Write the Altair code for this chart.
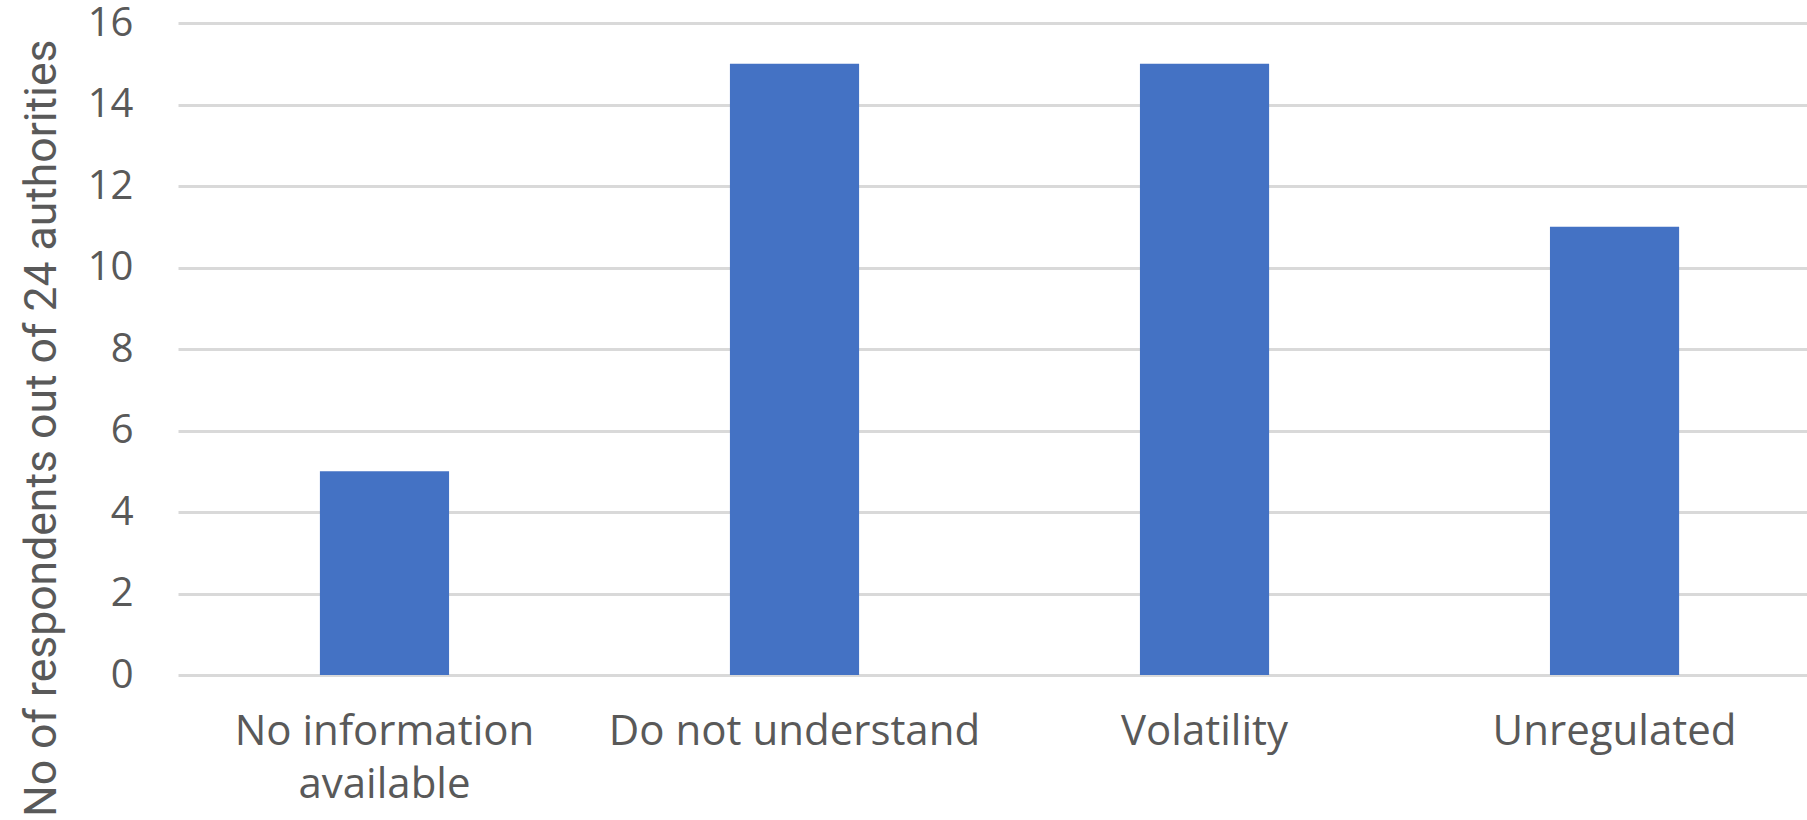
import altair as alt
import pandas as pd

# Survey responses: reasons authorities gave, counted out of 24 respondents
reasons = ["No information available", "Do not understand", "Volatility", "Unregulated"]
respondents = [5, 15, 15, 11]
y_ticks = [0, 2, 4, 6, 8, 10, 12, 14, 16]

df = pd.DataFrame({"reason": reasons, "count": respondents})

text_grey = "#595959"
label_font = "Open Sans"

bars = alt.Chart(df).mark_bar(color="#4472C4").encode(
    x=alt.X(
        "reason:N",
        sort=reasons,
        title=None,
        scale=alt.Scale(paddingInner=0.685, paddingOuter=0.329, align=0.526),
        axis=alt.Axis(
            domain=False,
            ticks=False,
            tickSize=0,
            labelAngle=0,
            labelFont=label_font,
            labelFontSize=42,
            labelColor=text_grey,
            labelBaseline="alphabetic",
            labelPadding=69,
            labelLineHeight=53,
            labelLimit=1000,
            labelOverlap=False,
            labelExpr="datum.value == 'No information available' ? ['No information', 'available'] : datum.value",
        ),
    ),
    y=alt.Y(
        "count:Q",
        scale=alt.Scale(domain=[0, 16], nice=False),
        title="No of respondents out of 24 authorities",
        axis=alt.Axis(
            values=y_ticks,
            domain=False,
            ticks=False,
            tickSize=0,
            grid=True,
            gridColor="#D9D9D9",
            gridWidth=3,
            labelFont=label_font,
            labelFontSize=40,
            labelColor=text_grey,
            labelPadding=45,
            labelBaseline="middle",
            titleFont="Roboto",
            titleFontSize=44.5,
            titleFontWeight="normal",
            titleColor=text_grey,
            titleAngle=270,
            titleAlign="right",
            titleBaseline="alphabetic",
            titleX=-123,
            titleY=16,
        ),
    ),
)

chart = bars.properties(
    width=1629,
    height=652,
    autosize=alt.AutoSizeParams(type="none"),
    padding={"left": 178, "top": 23, "right": 0, "bottom": 145},
    background="white",
).configure_view(stroke=None)

chart.save("out.html", embed_options={"renderer": "svg", "actions": False})
